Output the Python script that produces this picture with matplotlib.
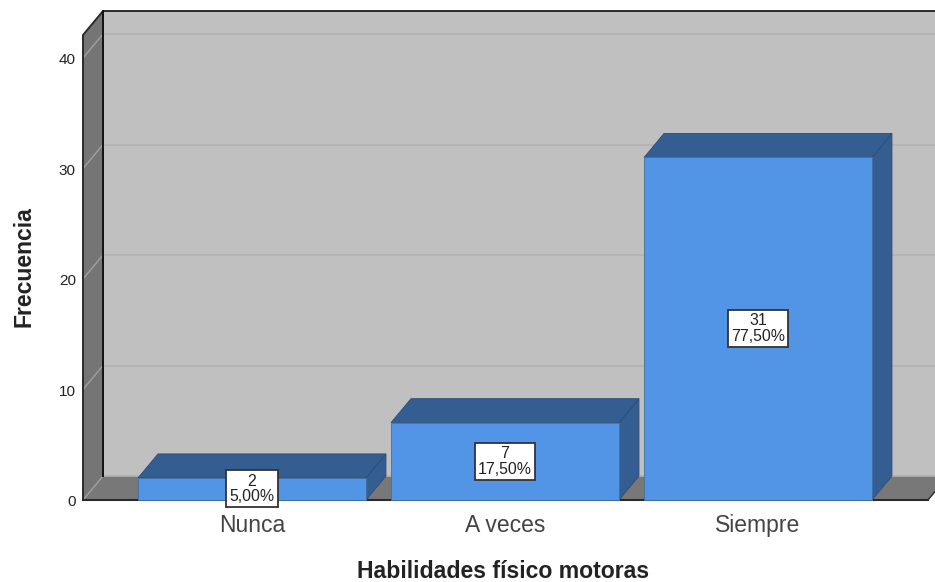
import matplotlib
matplotlib.use('Agg')
import matplotlib.pyplot as plt
from matplotlib.patches import Polygon

plt.rcParams['font.family'] = ['Liberation Sans', 'DejaVu Sans']

# data
categories = ['Nunca', 'A veces', 'Siempre']
counts = [2, 7, 31]
percents = ['5,00%', '17,50%', '77,50%']
y_ticks = [0, 10, 20, 30, 40]

# 3d look, in data units
dx = 0.079
dy = 2.17
bar_w = 0.901
x0, x1 = -0.668, 2.672
y1 = 42.08

fig = plt.figure(figsize=(9.35, 5.82), dpi=100)
ax = fig.add_axes([83 / 935, 82 / 582, 845 / 935, 465 / 582])
ax.set_xlim(x0, x1)
ax.set_ylim(0, y1)
ax.axis('off')


def poly(pts, color, edge='none', lw=0, z=1):
    ax.add_patch(Polygon(pts, closed=True, facecolor=color, edgecolor=edge,
                         linewidth=lw, zorder=z, clip_on=False))


# walls and floor
poly([(x0 + dx, dy), (x1 + dx * 2, dy), (x1 + dx * 2, y1 + dy), (x0 + dx, y1 + dy)], '#c0c0c0')
poly([(x0, 0), (x0 + dx, dy), (x0 + dx, y1 + dy), (x0, y1)], '#757575')
poly([(x0, 0), (x1, 0), (x1 + dx, dy), (x0 + dx, dy)], '#787878')

# gridlines
for t in y_ticks:
    ax.plot([x0, x0 + dx], [t, t + dy], color='#a0a0a0', lw=1.0, zorder=2, clip_on=False)
    ax.plot([x0 + dx, x1 + dx * 2], [t + dy, t + dy], color='#b2b2b2', lw=1.2,
            zorder=2, clip_on=False)

# outlines
ax.plot([x0, x0, x0 + dx, x1 + dx * 2], [0, y1, y1 + dy, y1 + dy], color='#2a2a2a', lw=1.4,
        zorder=3, clip_on=False)
ax.plot([x0 + dx, x0 + dx], [dy, y1 + dy], color='#111111', lw=1.4, zorder=3, clip_on=False)
ax.plot([x0, x1], [0, 0], color='#2a2a2a', lw=1.5, zorder=3, clip_on=False)
ax.plot([x1, x1 + dx], [0, dy], color='#2a2a2a', lw=1.0, zorder=3, clip_on=False)

# bars
for i, v in enumerate(counts):
    l = i - bar_w / 2
    r = i + bar_w / 2
    poly([(r, 0), (r + dx, dy), (r + dx, v + dy), (r, v)], '#345d91', '#2b4d78', 0.6, 4)
    poly([(l, v), (r, v), (r + dx, v + dy), (l + dx, v + dy)], '#345d91', '#2b4d78', 0.6, 4)
    poly([(l, 0), (r, 0), (r, v), (l, v)], '#5294e6', '#44709f', 0.6, 5)
    ax.text(i, v / 2, f'{v}\n{percents[i]}', ha='center', va='center', fontsize=11.4,
            linespacing=1.05, color='#222222', zorder=7, clip_on=False,
            bbox=dict(boxstyle='square,pad=0.2', facecolor='white', edgecolor='#333333', linewidth=1.3))
    ax.text(i, -2.3, categories[i], ha='center', va='center', fontsize=16.5, color='#444444')

for t in y_ticks:
    ax.text(x0 - 0.028, t - 0.2, str(t), ha='right', va='center', fontsize=11, color='#222222')

fig.text(503 / 935, 1 - 571 / 582, 'Habilidades físico motoras', ha='center', va='center',
         fontsize=16.6, fontweight='bold', color='#222222')
fig.text(24 / 935, 1 - 267 / 582, 'Frecuencia', ha='center', va='center', rotation=90,
         fontsize=16.6, fontweight='bold', color='#222222')

fig.savefig('out.png', dpi=100)
